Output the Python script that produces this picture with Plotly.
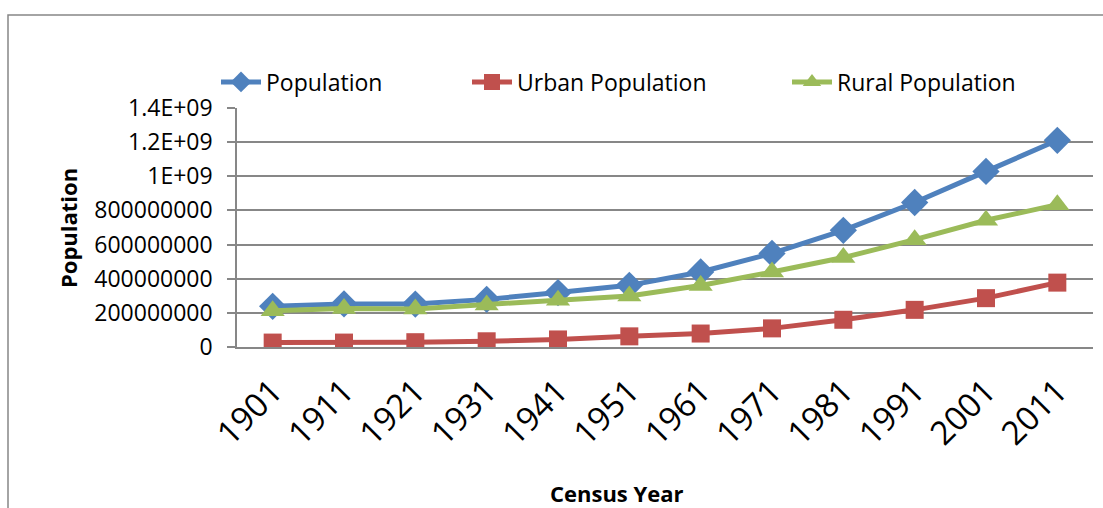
import plotly.graph_objects as go

years = ["1901", "1911", "1921", "1931", "1941", "1951", "1961", "1971", "1981", "1991", "2001", "2011"]
population = [238.4e6, 252.1e6, 251.3e6, 279.0e6, 318.7e6, 361.1e6, 439.2e6, 548.2e6, 683.3e6, 846.4e6, 1028.7e6, 1210.9e6]
urban = [25.9e6, 25.9e6, 28.1e6, 33.5e6, 44.2e6, 62.4e6, 78.9e6, 109.1e6, 159.5e6, 217.6e6, 286.1e6, 377.1e6]
rural = [212.5e6, 226.2e6, 223.2e6, 245.5e6, 274.5e6, 298.6e6, 360.3e6, 439.0e6, 523.9e6, 628.7e6, 742.6e6, 833.7e6]
ytick_vals = [0, 2e8, 4e8, 6e8, 8e8, 1e9, 1.2e9, 1.4e9]
ytick_text = ["0", "200000000", "400000000", "600000000", "800000000", "1E+09", "1.2E+09", "1.4E+09"]

FONT = "Open Sans"
fig = go.Figure()
fig.add_trace(go.Scatter(x=years, y=population, name="Population", mode="lines+markers",
                         line=dict(color="#4F81BD", width=5),
                         marker=dict(symbol="diamond", size=21, color="#4F81BD"), legend="legend",
                         showlegend=True))
fig.add_trace(go.Scatter(x=years, y=urban, name="Urban Population", mode="lines+markers",
                         line=dict(color="#C0504D", width=5),
                         marker=dict(symbol="square", size=18, color="#C0504D"), legend="legend2",
                         showlegend=True))
fig.add_trace(go.Scatter(x=years, y=rural, name="Rural Population", mode="lines+markers",
                         line=dict(color="#9BBB59", width=5),
                         marker=dict(symbol="triangle-up", size=21, color="#9BBB59"), legend="legend3",
                         showlegend=True))

W, H = 1103, 508
L, R, T, B = 237, 10, 108, 161
pw = W - L - R
ph = H - T - B

def px(x):
    return (x - L) / pw

def py(y):
    return (H - B - y) / ph

leg_common = dict(orientation="h", yanchor="middle", xanchor="left", bgcolor="rgba(0,0,0,0)",
                  font=dict(family=FONT, size=23, color="#000000"), itemwidth=40)
fig.update_layout(
    width=W, height=H,
    margin=dict(l=L, r=R, t=T, b=B),
    paper_bgcolor="white", plot_bgcolor="white",
    font=dict(family=FONT, color="#000000"),
    showlegend=True,
    legend=dict(x=px(216), y=py(82), **leg_common),
    legend2=dict(x=px(467), y=py(82), **leg_common),
    legend3=dict(x=px(787), y=py(82), **leg_common),
    xaxis=dict(type="category", range=[-0.5, 11.5], showgrid=False, showline=True,
               linecolor="#878787", linewidth=1.5, tickangle=-45, ticks="",
               tickfont=dict(family=FONT, size=33, color="#000000"), ticklabelstandoff=10,
               zeroline=False),
    yaxis=dict(range=[0, 1.4e9], tickvals=ytick_vals, ticktext=ytick_text, showgrid=True,
               gridcolor="#878787", gridwidth=1.5, showline=True, linecolor="#878787",
               linewidth=1.5, ticks="outside", ticklen=8, tickcolor="#878787", tickwidth=1.5,
               tickfont=dict(family=FONT, size=23, color="#000000"), ticklabelstandoff=10,
               zeroline=False),
    shapes=[dict(type="rect", xref="paper", yref="paper", x0=px(8), x1=px(1120), y0=py(530), y1=py(15),
                 line=dict(color="#868686", width=1.5), layer="below")],
    annotations=[
        dict(text="<b>Population</b>", xref="paper", yref="paper", x=px(68), y=py(228), textangle=-90,
             showarrow=False, font=dict(family=FONT, size=22, color="#000000"), xanchor="center", yanchor="middle"),
        dict(text="<b>Census Year</b>", xref="paper", yref="paper", x=px(617), y=py(493),
             showarrow=False, font=dict(family=FONT, size=22, color="#000000"), xanchor="center", yanchor="middle"),
    ],
)
fig.write_html("out.html", config={"displayModeBar": False},
               post_script="document.body.style.margin='0';document.body.style.overflow='hidden';")
